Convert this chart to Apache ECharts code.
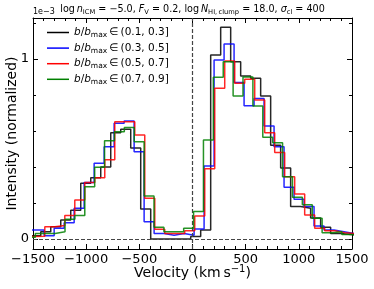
<!DOCTYPE html>
<html>
<head>
<meta charset="utf-8">
<script src="https://cdn.jsdelivr.net/npm/echarts@6/dist/echarts.min.js"></script>
<style>
html,body{margin:0;padding:0;background:#fff;}
#chart{width:374px;height:289px;}
</style>
</head>
<body>
<div id="chart"></div>
<script>
// ---- data (velocity bin edges in km/s, normalized intensity ×1e-3) ----
const seriesNames = ['b01', 'b03', 'b05', 'b07'];
const legendRanges = ['(0.1, 0.3]', '(0.3, 0.5]', '(0.5, 0.7]', '(0.7, 0.9]'];

const blackEdges = [-1521,-1427,-1333,-1239,-1145,-1051,-957,-863,-769,-675,-581,-487,-393,-299,-205,-111,-17,77,171,265,359,453,547,641,735,829,923,1017,1111,1205,1299,1393,1487,1581];
const blackValues = [0.017,0.04,0.068,0.105,0.16,0.31,0.34,0.40,0.59,0.61,0.505,0.167,0,0,0,0,0.013,0.05,1.022,1.176,0.985,0.906,0.893,0.795,0.52,0.394,0.18,0.17,0.116,0.065,0.03,0.025,0.02];

const blueEdges = [-1583,-1489,-1395,-1301,-1207,-1113,-1019,-925,-831,-737,-643,-549,-455,-361,-267,-173,-79,15,109,203,297,391,485,579,673,767,861,955,1049,1143,1237,1331,1425,1519];
const blueValues = [0.05,0.05,0.017,0.06,0.09,0.17,0.313,0.42,0.513,0.643,0.655,0.485,0.096,0.03,0.02,0.03,0.02,0.055,0.405,0.994,1.083,0.87,0.74,0.78,0.628,0.513,0.287,0.22,0.18,0.072,0.05,0.04,0.03];

const redEdges = [-1577,-1483,-1389,-1295,-1201,-1107,-1013,-919,-825,-731,-637,-543,-449,-355,-261,-167,-73,21,115,209,303,397,491,585,679,773,867,961,1055,1149,1243,1337,1431,1525];
const redValues = [0.013,0.015,0.068,0.075,0.13,0.217,0.313,0.34,0.44,0.652,0.652,0.578,0.226,0.054,0.03,0.03,0.046,0.128,0.39,0.837,0.989,0.865,0.887,0.772,0.59,0.48,0.346,0.25,0.133,0.06,0.045,0.035,0.03];

const greenEdges = [-1571,-1478,-1385,-1292,-1199,-1106,-1013,-920,-827,-734,-641,-548,-455,-362,-269,-176,-83,10,103,196,289,382,475,568,661,754,847,940,1033,1126,1219,1312,1405,1498,1591];
const greenValues = [0.01,0.03,0.03,0.04,0.11,0.13,0.29,0.398,0.546,0.596,0.62,0.54,0.239,0.065,0.04,0.04,0.06,0.152,0.55,0.898,0.985,0.794,0.90,0.739,0.565,0.535,0.346,0.232,0.19,0.115,0.035,0.04,0.025,0.02];

const xTickValues = [-1500,-1000,-500,0,500,1000,1500];
const xTickLabels = ['\u22121500','\u22121000','\u2212500','0','500','1000','1500'];
const yTickValues = [0, 1];
const yTickLabels = ['0', '1'];
const yMinorTickValues = [0.2, 0.4, 0.6, 0.8, 1.2];

// ---- build ----
function stepData(edges, values) {
  const d = values.map((v, i) => [edges[i], v]);
  d.push([edges[values.length], values[values.length - 1]]);
  return d;
}
const colors = ['#000000', '#0000ff', '#ff0000', '#008000'];
const allEdges = [blackEdges, blueEdges, redEdges, greenEdges];
const allValues = [blackValues, blueValues, redValues, greenValues];

const FF = 'DejaVu Sans';
const chart = echarts.init(document.getElementById('chart'), null, {renderer: 'canvas'});

const series = seriesNames.map((name, i) => ({
  name: name,
  type: 'line',
  step: 'end',
  showSymbol: false,
  symbol: 'none',
  data: stepData(allEdges[i], allValues[i]),
  lineStyle: {color: colors[i], width: 1.5, opacity: 0.85},
  itemStyle: {color: colors[i]},
  z: 2 + i,
  clip: true
}));
series[0].markLine = {
  silent: true,
  symbol: ['none', 'none'],
  label: {show: false},
  lineStyle: {type: [4, 2], color: '#444', width: 1.2},
  data: [{xAxis: 0}, {yAxis: 0}],
  animation: false
};

const yMin = -0.056, yMax = 1.228;

const baseX = {
  type: 'value', min: -1500, max: 1500, interval: 500,
  axisLine: {show: true, onZero: false, lineStyle: {color: '#000', width: 1}},
  axisTick: {show: true, inside: true, length: 5, lineStyle: {color: '#000', width: 1}},
  minorTick: {show: true, splitNumber: 5, length: 3, lineStyle: {color: '#000', width: 1}},
  splitLine: {show: false}, minorSplitLine: {show: false}
};
const baseY = {
  type: 'value', min: yMin, max: yMax,
  axisLine: {show: true, onZero: false, lineStyle: {color: '#000', width: 1}},
  splitLine: {show: false}
};

const legendRich = {
  i: {fontFamily: FF, fontStyle: 'italic', fontSize: 10.5, color: '#000', lineHeight: 13},
  n: {fontFamily: FF, fontSize: 10.5, color: '#000', lineHeight: 13},
  s: {fontFamily: FF, fontSize: 7.5, color: '#000', lineHeight: 8, verticalAlign: 'bottom'}
};

chart.setOption({
  animation: false,
  backgroundColor: '#fff',
  grid: {left: 33, right: 22, top: 18, bottom: 40, containLabel: false, outerBoundsMode: 'none'},
  xAxis: [
    Object.assign({}, baseX, {
      position: 'bottom',
      axisLabel: {
        show: true, margin: 4, color: '#000', fontFamily: FF, fontSize: 13,
        formatter: v => { const k = xTickValues.indexOf(v); return k >= 0 ? xTickLabels[k] : ''; }
      },
      name: '{n|Velocity (km\u2009s}{sup|\u22121}{n|)}',
      nameLocation: 'middle', nameGap: 15, nameMoveOverlap: false,
      nameTextStyle: {
        color: '#000', fontFamily: FF, fontSize: 14,
        rich: {
          n: {fontFamily: FF, fontSize: 14, color: '#000', lineHeight: 18},
          sup: {fontFamily: FF, fontSize: 10, color: '#000', lineHeight: 10, verticalAlign: 'top'}
        }
      }
    }),
    Object.assign({}, baseX, {position: 'top', axisLabel: {show: false}})
  ],
  yAxis: [
    Object.assign({}, baseY, {
      position: 'left',
      axisTick: {show: true, inside: true, length: 5, customValues: yTickValues, lineStyle: {color: '#000'}},
      axisLabel: {
        show: true, margin: 4, color: '#000', fontFamily: FF, fontSize: 13,
        customValues: yTickValues,
        formatter: v => { const k = yTickValues.indexOf(v); return k >= 0 ? yTickLabels[k] : ''; }
      },
      name: 'Intensity (normalized)', nameLocation: 'middle', nameGap: 14, nameMoveOverlap: false,
      nameTextStyle: {color: '#000', fontFamily: FF, fontSize: 14}
    }),
    Object.assign({}, baseY, {
      position: 'left', axisLine: {show: false, onZero: false},
      axisTick: {show: true, inside: true, length: 3, customValues: yMinorTickValues, lineStyle: {color: '#000'}},
      axisLabel: {show: false, customValues: yMinorTickValues}
    }),
    Object.assign({}, baseY, {
      position: 'right',
      axisTick: {show: true, inside: true, length: 5, customValues: yTickValues, lineStyle: {color: '#000'}},
      axisLabel: {show: false, customValues: yTickValues}
    }),
    Object.assign({}, baseY, {
      position: 'right', axisLine: {show: false, onZero: false},
      axisTick: {show: true, inside: true, length: 3, customValues: yMinorTickValues, lineStyle: {color: '#000'}},
      axisLabel: {show: false, customValues: yMinorTickValues}
    })
  ],
  legend: {
    orient: 'vertical', left: 42, top: 21, itemWidth: 22, itemHeight: 1.5, itemGap: 2.6,
    icon: 'rect', selectedMode: false,
    data: seriesNames,
    formatter: name => {
      const k = seriesNames.indexOf(name);
      return '{i|b}{n|/}{i|b}{s|max}{n|\u2009\u2208\u2009' + legendRanges[k] + '}';
    },
    textStyle: {fontFamily: FF, fontSize: 10.5, color: '#000', lineHeight: 13, padding: [0, 0, 0, 0], rich: legendRich}
  },
  graphic: [
    {
      type: 'text', left: 33, top: 8, silent: true,
      style: {text: '1e\u22123', font: '8px "DejaVu Sans"', fill: '#000'}
    },
    {
      type: 'text', x: 192.5, y: 3, silent: true,
      style: {
        text: '{n|log\u2009}{i|n}{s|ICM}{n| = \u22125.0, }{i|F}{s|V}{n| = 0.2, log\u2009}{i|N}{s|HI,\u2009clump}{n| = 18.0, }{i|\u03c3}{s|cl}{n| = 400}',
        align: 'center',
        rich: {
          n: {fontFamily: FF, fontSize: 9.6, fill: '#000', lineHeight: 13},
          i: {fontFamily: FF, fontStyle: 'italic', fontSize: 9.6, fill: '#000', lineHeight: 13},
          s: {fontFamily: FF, fontSize: 6.7, fill: '#000', lineHeight: 7, verticalAlign: 'bottom'}
        }
      }
    }
  ],
  series: series
});
</script>
</body>
</html>
